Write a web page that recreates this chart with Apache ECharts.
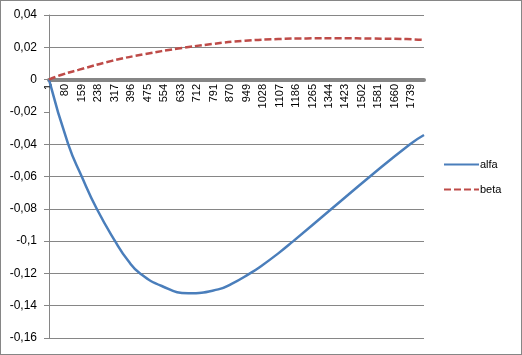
<!DOCTYPE html>
<html><head><meta charset="utf-8">
<script src="https://cdn.jsdelivr.net/npm/echarts@6/dist/echarts.min.js"></script>
<style>
html,body{margin:0;padding:0;background:#fff;}
#c{width:522px;height:355px;box-sizing:border-box;border:1px solid #868686;}
</style></head>
<body><div id="c"></div>
<script>
// x positions are sample indices (label = index + 1)
const alfaIdx = [0, 92, 157, 229, 317, 380, 437, 541, 668, 812, 876, 964, 1012, 1100, 1172, 1356, 1540, 1732, 1799];
const alfaVal = [0, -0.040, -0.060, -0.080, -0.100, -0.1122, -0.120, -0.1278, -0.1323, -0.1299, -0.1265, -0.120, -0.1160, -0.1076, -0.100, -0.080, -0.060, -0.040, -0.0343];
const betaIdx = [0, 61, 141, 301, 461, 620, 780, 940, 1100, 1236, 1396, 1554, 1716, 1799];
const betaVal = [0, 0.0030, 0.0060, 0.0116, 0.0158, 0.0192, 0.0220, 0.0241, 0.0251, 0.0255, 0.0256, 0.0254, 0.0251, 0.0245];
const seriesNames = ['alfa', 'beta'];
const xLabelStep = 79;
const yTicks = [-0.16, -0.14, -0.12, -0.1, -0.08, -0.06, -0.04, -0.02, 0, 0.02, 0.04];

const yMin = -0.16, yMax = 0.04;
const gridTop = 14, gridBottom = 16, H = 355;
const plotH = H - gridTop - gridBottom;
const zeroOffset = -plotH * (0 - yMin) / (yMax - yMin) + 2;

const chart = echarts.init(document.getElementById('c'));
const gridColors = yTicks.map(v => Math.abs(v + 0.02) < 1e-9 ? 'rgba(0,0,0,0)' : '#868686');
chart.setOption({
  animation: false,
  grid: {left: 48, right: 97, top: gridTop, bottom: gridBottom, containLabel: false},
  legend: {
    orient: 'vertical', left: 437, top: 153, itemGap: 14,
    itemWidth: 35, itemHeight: 10,
    itemStyle: {opacity: 0},
    textStyle: {fontFamily: 'Liberation Sans', fontSize: 11, color: '#000', padding: [0,0,0,-4]},
    data: seriesNames
  },
  xAxis: {
    type: 'value', min: 0, max: 1799, interval: xLabelStep,
    offset: zeroOffset,
    axisLine: {onZero: false, lineStyle: {color: '#868686', width: 4}},
    axisTick: {show: false},
    splitLine: {show: false},
    axisLabel: {
      rotate: 90, margin: 4, showMaxLabel: false,
      fontFamily: 'Liberation Sans', fontSize: 11, color: '#000',
      formatter: v => (v % xLabelStep === 0 ? String(v + 1) : '')
    }
  },
  yAxis: {
    type: 'value', min: yMin, max: yMax, interval: 0.02,
    axisLine: {show: true, onZero: false, lineStyle: {color: '#868686', width: 1}},
    axisTick: {show: true, length: 5, lineStyle: {color: '#868686'}},
    splitLine: {show: true, lineStyle: {color: gridColors, width: 1}},
    axisLabel: {
      margin: 12, fontFamily: 'Liberation Sans', fontSize: 12, color: '#000',
      formatter: v => (Math.abs(v) < 1e-9 ? '0' : String(+v.toFixed(2)).replace('.', ','))
    }
  },
  series: [
    {name: seriesNames[0], type: 'line', smooth: 0.5, symbol: 'none',
     lineStyle: {color: '#4A7EBB', width: 2.5}, itemStyle: {color: '#4A7EBB'},
     data: alfaIdx.map((x, i) => [x, alfaVal[i]])},
    {name: seriesNames[1], type: 'line', smooth: 0.5, symbol: 'none',
     lineStyle: {color: '#BE4B48', width: 2.5, type: [7, 3]}, itemStyle: {color: '#BE4B48'},
     data: betaIdx.map((x, i) => [x, betaVal[i]])}
  ]
});
</script></body></html>
